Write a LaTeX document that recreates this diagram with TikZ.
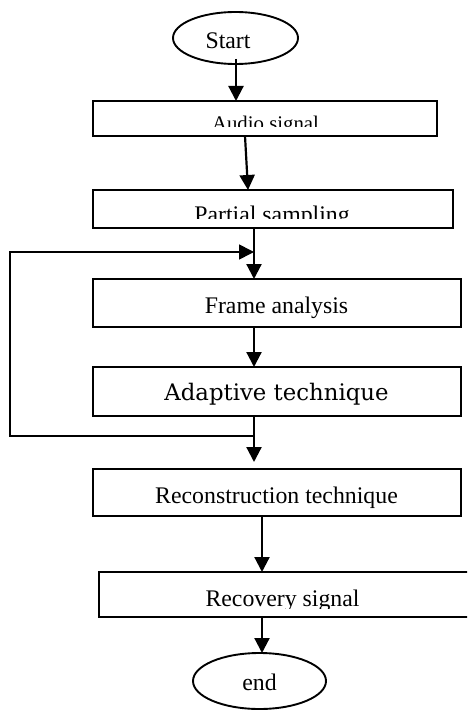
\documentclass[tikz,border=0pt]{standalone}
\usepackage{fontspec}
\setmainfont{Liberation Serif}
\newfontfamily\schoolfont{DejaVu Serif}
\usetikzlibrary{shapes.geometric,arrows.meta,calc}

\begin{document}
\begin{tikzpicture}[x=1pt,y=-1pt,
  stepbox/.style={draw, line width=2.2pt, inner sep=0pt, outer sep=0pt},
  termbox/.style={ellipse, draw, line width=1.9pt, inner sep=0pt, outer sep=0pt},
  lbl/.style={anchor=base, inner sep=0pt, font=\fontsize{23.8}{28}\selectfont},
  flow/.style={line width=2.2pt, -{Triangle[length=15pt,width=15pt]}},
  loopline/.style={line width=1.7pt, -{Triangle[length=15pt,width=15pt]}}
]
% page frame
\useasboundingbox (0,0) rectangle (467,711);
\clip (0,0) rectangle (467,711);

% terminals
\node[termbox, minimum width=125pt, minimum height=52pt] (start) at (235.5,38) {};
\node[lbl] (starttxt) at (228,49) {Start};
\node[termbox, minimum width=133pt, minimum height=56pt] (end) at (259.5,681) {};
\node[lbl] (endtxt) at (259.5,690.5) {end};

% process boxes
\node[stepbox, minimum width=344pt, minimum height=35pt] (audio) at (265,118.5) {};
\node[stepbox, minimum width=360pt, minimum height=38pt] (partial) at (273,209) {};
\node[stepbox, minimum width=368pt, minimum height=48pt] (frame) at (277,303) {};
\node[stepbox, minimum width=368pt, minimum height=49pt] (adaptive) at (277,391.5) {};
\node[stepbox, minimum width=368pt, minimum height=47pt] (recon) at (277,492.5) {};
\node[stepbox, minimum width=420pt, minimum height=45pt] (recovery) at (309,594.5) {};

% box labels (some are cut off by the box area)
\begin{scope}
  \clip (93,101) rectangle (437,127);
  \node[lbl, font=\fontsize{20.8}{25}\selectfont] (audiotxt) at (265.5,131) {Audio signal};
\end{scope}
\begin{scope}
  \clip (93,190) rectangle (453,218.5);
  \node[lbl] (partialtxt) at (272,222.7) {Partial sampling};
\end{scope}
\node[lbl] (frametxt) at (276.5,313.3) {Frame analysis};
\node[lbl, font=\schoolfont\fontsize{22.8}{27}\selectfont] (adaptivetxt) at (276.5,400.7) {Adaptive technique};
\node[lbl] (recontxt) at (276.5,503) {Reconstruction technique};
\begin{scope}
  \clip (99,572) rectangle (467,608);
  \node[lbl] (recoverytxt) at (282.5,606) {Recovery signal};
\end{scope}

% main flow
\draw[flow] ([xshift=0.5pt,yshift=5pt]start.south) -- ([xshift=0.5pt]start.south |- audio.north);
\draw[flow] ([xshift=-20pt]audio.south) -- ([xshift=-25pt]partial.north);
\draw[flow] ([xshift=-19pt]partial.south) -- ([xshift=-19pt]partial.south |- frame.north);
\draw[flow] ([xshift=-23pt]frame.south) -- ([xshift=-23pt]adaptive.north);
\draw[flow] ([xshift=-23pt]adaptive.south) -- ([xshift=-23pt,yshift=7pt]recon.north);
\draw[flow] ([xshift=-15pt]recon.south) -- ([xshift=-15pt]recon.south |- recovery.north);
\draw[flow] ([xshift=-15pt]recon.south |- recovery.south) -- ([xshift=-15pt]recon.south |- end.north);

% feedback loop from below the adaptive stage back above frame analysis
\coordinate (loopout) at (254,436);
\coordinate (loopcorner) at (10,436);
\coordinate (loopin) at (254,252);
\draw[loopline] (loopout) -- (loopcorner) |- (loopin);
\end{tikzpicture}
\end{document}
